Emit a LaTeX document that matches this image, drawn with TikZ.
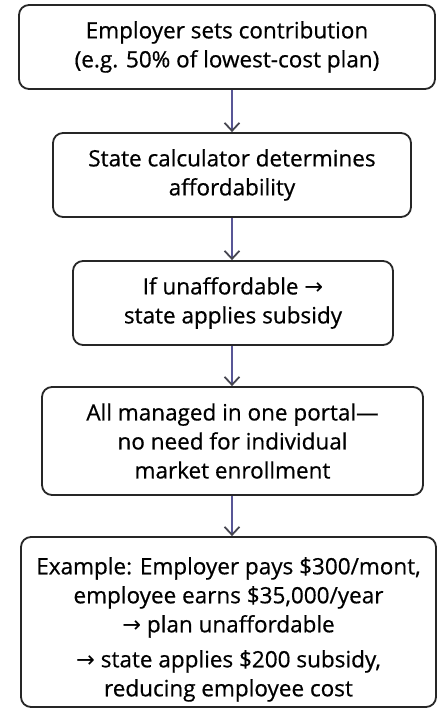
\documentclass[tikz,border=0pt]{standalone}
\usepackage{fontspec}
\setmainfont{Open Sans}[FakeBold=0.6]
\newfontfamily\arrowfont{DejaVu Sans}
\newcommand\rarr{{\arrowfont →}}
\usetikzlibrary{arrows.meta}

\definecolor{flowline}{RGB}{88,86,150}
\definecolor{flowhead}{RGB}{70,70,80}

\tikzset{
  stepbox/.style={draw=black!85, line width=1.8pt, rounded corners=10pt,
    align=center, inner sep=0pt, font=\fontsize{22.5}{29}\selectfont},
  flow/.style={draw=flowline, line width=1.8pt,
    -{Straight Barb[length=8pt,width=15pt,line width=1.8pt,color=flowhead]}}
}

\begin{document}
\begin{tikzpicture}[x=1pt,y=-1pt]
   \useasboundingbox (0,0) rectangle (437,709);
   % the five steps, top to bottom
   \node[stepbox, minimum width=416pt, minimum height=84pt] (employer) at (227,47)
     {Employer sets contribution\\(e.g. 50\% of lowest-cost plan)};
   \node[stepbox, minimum width=358pt, minimum height=84pt] (calc) at (232,175)
     {State calculator determines\\affordability};
   \node[stepbox, minimum width=320pt, minimum height=84pt] (subsidy) at (233,303)
     {If unaffordable \rarr\\state applies subsidy};
   \node[stepbox, minimum width=381pt, minimum height=108pt] (portal) at (232.5,441)
     {All managed in one portal—\\no need for individual\\market enrollment};
   \node[stepbox, minimum width=415pt, minimum height=170pt] (example) at (228.5,622)
     {\rule{0pt}{32pt}Example: Employer pays \$300/mont,\\employee earns \$35,000/year\\\rarr\ plan unaffordable\\[6pt]
      \rarr\ state applies \$200 subsidy,\\reducing employee cost};
   % arrows down the middle
   \foreach \a/\b in {employer/calc, calc/subsidy, subsidy/portal, portal/example}
     \draw[flow] (\a.south -| calc.north) -- (\b.north -| calc.north);
\end{tikzpicture}
\end{document}
